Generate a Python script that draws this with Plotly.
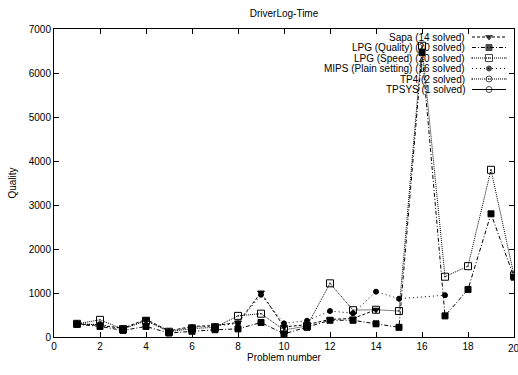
import plotly.graph_objects as go

# ---- data ----
problems = list(range(1, 21))
sapa_x = [1, 2, 3, 4, 5, 6, 7, 8, 9, 10, 11, 12, 13, 14]
sapa_y = [300, 260, 200, 400, 140, 240, 260, 330, 1010, 230, 280, 400, 420, 620]
lpgq_y = [290, 240, 150, 240, 90, 130, 165, 185, 330, 70, 220, 380, 380, 300, 220, 6470, 480, 1080, 2800, 1360]
lpgs_y = [300, 390, 180, 370, 120, 190, 220, 480, 530, 160, 250, 1220, 610, 620, 590, 6620, 1370, 1610, 3800, 1400]
mips_x = [1, 2, 3, 4, 5, 6, 7, 8, 9, 10, 11, 12, 13, 14, 15, 17]
mips_y = [300, 280, 190, 380, 130, 220, 250, 310, 960, 310, 370, 590, 540, 1030, 870, 950]
tp4_x = [1, 2]
tp4_y = [300, 280]
tpsys_x = [1]
tpsys_y = [300]
x_ticks = [0, 2, 4, 6, 8, 10, 12, 14, 16, 18, 20]

names = ["Sapa (14 solved)", "LPG (Quality) (20 solved)", "LPG (Speed) (20 solved)",
         "MIPS (Plain setting) (16 solved)", "TP4 (2 solved)", "TPSYS (1 solved)"]

styles = [
    dict(dash="3px,2px", symbol="triangle-down", size=6),
    dict(dash="4px,2px,1px,2px", symbol="square", size=6),
    dict(dash="1px,1px", symbol="square-open-dot", size=7),
    dict(dash="1px,3px", symbol="circle", size=5),
    dict(dash="1px,1px", symbol="circle-open-dot", size=6),
    dict(dash="solid", symbol="circle-open", size=6),
]
series = [(sapa_x, sapa_y), (problems, lpgq_y), (problems, lpgs_y),
          (mips_x, mips_y), (tp4_x, tp4_y), (tpsys_x, tpsys_y)]

fig = go.Figure()
for (xs, ys), st, nm in zip(series, styles, names):
    fig.add_trace(go.Scatter(
        x=xs, y=ys, mode="lines+markers", name=nm, showlegend=False,
        line=dict(color="black", width=1, dash=st["dash"]),
        marker=dict(symbol=st["symbol"], size=st["size"], color="black",
                    line=dict(color="black", width=1)),
    ))

# ---- custom gnuplot-style legend on a pixel overlay axis ----
row0, rowgap = 37, 10.5
for i, (st, nm) in enumerate(zip(styles, names)):
    yy = row0 + i * rowgap
    fig.add_trace(go.Scatter(
        x=[472, 489, 506], y=[yy, yy, yy], mode="lines+markers",
        xaxis="x2", yaxis="y2", showlegend=False, hoverinfo="skip",
        line=dict(color="black", width=1, dash=st["dash"]),
        marker=dict(symbol=st["symbol"], size=[0, st["size"], 0], color="black",
                    line=dict(color="black", width=1)),
    ))
    fig.add_annotation(x=467, y=yy, xref="x2", yref="y2", text=nm,
                       showarrow=False, xanchor="right", yanchor="middle",
                       font=dict(size=10, color="black"))

# last x tick label overflows the page edge, as in the reference
fig.add_annotation(x=x_ticks[-1], y=-11 / 308, xref="x", yref="paper",
                   text=str(x_ticks[-1]), showarrow=False,
                   xanchor="center", yanchor="middle",
                   font=dict(size=10, color="black"))

axis_common = dict(showline=True, linecolor="black", linewidth=1, mirror="allticks",
                   ticks="inside", ticklen=5, tickcolor="black", showgrid=False,
                   zeroline=False, tickfont=dict(size=10, color="black"))

fig.update_layout(
    width=518, height=375,
    margin=dict(l=54, r=4, t=29, b=38),
    paper_bgcolor="white", plot_bgcolor="white",
    font=dict(family="Liberation Sans, Arial, sans-serif", size=10, color="black"),
    title=dict(text="DriverLog-Time", x=(284 / 518), xanchor="center",
               y=1 - 13 / 375, yanchor="middle", font=dict(size=10)),
    xaxis=dict(range=[0, 20], tickvals=x_ticks,
               title=dict(text="Problem number", standoff=2, font=dict(size=10)),
               **axis_common),
    yaxis=dict(range=[0, 7000], dtick=1000, tick0=0,
               title=dict(text="Quality", standoff=10, font=dict(size=10)),
               **axis_common),
    xaxis2=dict(range=[54, 514], overlaying="x", visible=False),
    yaxis2=dict(range=[337, 29], overlaying="y", visible=False),
    showlegend=False,
)

fig.write_html("out.html")
